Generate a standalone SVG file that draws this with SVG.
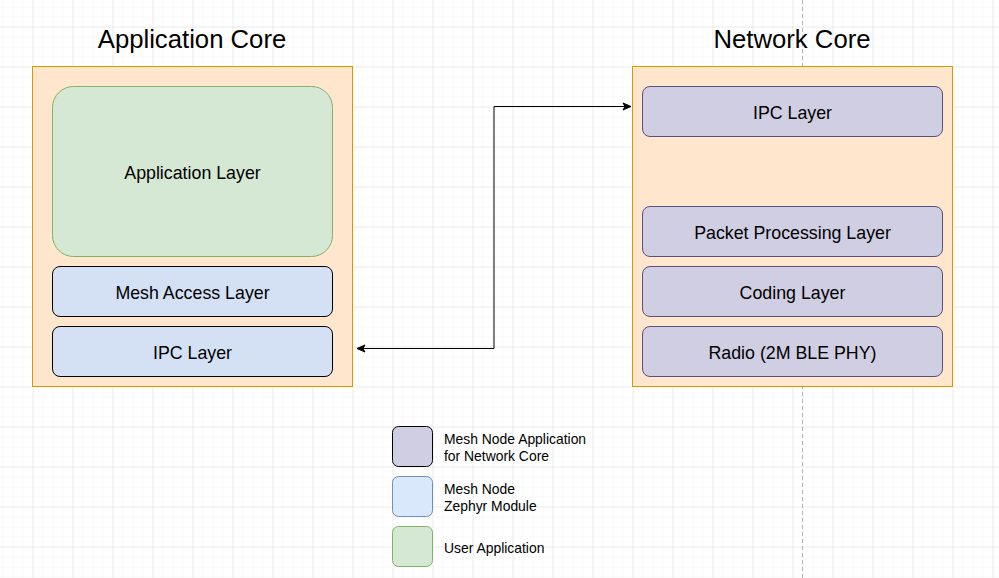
<svg xmlns="http://www.w3.org/2000/svg" width="999" height="578" viewBox="0 0 999 578">
  <defs>
    <pattern id="minor" x="2.5" y="6.5" width="10" height="10" patternUnits="userSpaceOnUse">
      <path d="M0,0 H10 M0,0 V10" fill="none" stroke="#f2f2f2" stroke-width="1"/>
    </pattern>
    <pattern id="major" x="32.5" y="26.5" width="40" height="40" patternUnits="userSpaceOnUse">
      <path d="M0,0 H40 M0,0 V40" fill="none" stroke="#e0e0e0" stroke-width="1"/>
    </pattern>
    <marker id="arr" viewBox="-9 -5 10 10" refX="0" refY="0" markerWidth="10" markerHeight="10" markerUnits="userSpaceOnUse" orient="auto-start-reverse">
      <path d="M0,0 L-8,-3.5 L-6,0 L-8,3.5 Z" fill="#000" stroke="#000" stroke-width="1"/>
    </marker>
  </defs>
  <style>
    .title { font-family: "Liberation Sans", Arial, sans-serif; font-size: 25.7px; fill: #000; text-anchor: middle; }
    .lbl { font-family: "Liberation Sans", Arial, sans-serif; font-size: 17.8px; fill: #000; text-anchor: middle; }
    .leg { font-family: "Liberation Sans", Arial, sans-serif; font-size: 13.9px; fill: #000; }
    .core { fill: #ffe6cc; stroke: #d79b00; stroke-width: 1; }
    .green { fill: #d5e8d4; stroke: #82b366; stroke-width: 1; }
    .blue { fill: #d4e1f5; stroke: #000; stroke-width: 1; }
    .purple { fill: #d0cee2; stroke: #56517e; stroke-width: 1; }
    .edge { fill: none; stroke: #000; stroke-width: 1; }
  </style>
  <rect width="999" height="578" fill="#ffffff"/>
  <rect width="999" height="578" fill="url(#minor)"/>
  <rect width="999" height="578" fill="url(#major)"/>
  <line x1="802.5" y1="0" x2="802.5" y2="578" stroke="#b3b3b3" stroke-width="1" stroke-dasharray="4 3"/>

  <g id="app-core">
    <text class="title" x="192" y="48">Application Core</text>
    <rect class="core" x="32.5" y="66.5" width="320" height="320"/>
  </g>
  <g id="app-layer">
    <rect class="green" x="52.5" y="86.5" width="280" height="170" rx="21" ry="21"/>
    <text class="lbl" x="192.5" y="178.5">Application Layer</text>
  </g>
  <g id="mesh-access">
    <rect class="blue" x="52.5" y="266.5" width="280" height="50" rx="7.5" ry="7.5"/>
    <text class="lbl" x="192.5" y="298.5">Mesh Access Layer</text>
  </g>
  <g id="ipc-left">
    <rect class="blue" x="52.5" y="326.5" width="280" height="50" rx="7.5" ry="7.5"/>
    <text class="lbl" x="192.5" y="358.5">IPC Layer</text>
  </g>

  <g id="net-core">
    <text class="title" x="792" y="48">Network Core</text>
    <rect class="core" x="632.5" y="66.5" width="320" height="320"/>
  </g>
  <g id="ipc-right">
    <rect class="purple" x="642.5" y="86.5" width="300" height="50" rx="7.5" ry="7.5"/>
    <text class="lbl" x="792.5" y="118.5">IPC Layer</text>
  </g>
  <g id="packet">
    <rect class="purple" x="642.5" y="206.5" width="300" height="50" rx="7.5" ry="7.5"/>
    <text class="lbl" x="792.5" y="238.5">Packet Processing Layer</text>
  </g>
  <g id="coding">
    <rect class="purple" x="642.5" y="266.5" width="300" height="50" rx="7.5" ry="7.5"/>
    <text class="lbl" x="792.5" y="298.5">Coding Layer</text>
  </g>
  <g id="radio">
    <rect class="purple" x="642.5" y="326.5" width="300" height="50" rx="7.5" ry="7.5"/>
    <text class="lbl" x="792.5" y="358.5">Radio (2M BLE PHY)</text>
  </g>

  <g id="connectors">
    <path class="edge" d="M631,106.5 H494 V348.5 H357" marker-start="url(#arr)" marker-end="url(#arr)"/>
  </g>

  <g id="legend-purple">
    <rect x="392.5" y="426.5" width="40" height="40" rx="6" ry="6" fill="#d0cee2" stroke="#000"/>
    <text class="leg" x="444" y="444">Mesh Node Application</text>
    <text class="leg" x="444" y="460.5">for Network Core</text>
  </g>
  <g id="legend-blue">
    <rect x="392.5" y="476.5" width="40" height="40" rx="6" ry="6" fill="#dae8fc" stroke="#6c8ebf"/>
    <text class="leg" x="444" y="494">Mesh Node</text>
    <text class="leg" x="444" y="510.5">Zephyr Module</text>
  </g>
  <g id="legend-green">
    <rect x="392.5" y="526.5" width="40" height="40" rx="6" ry="6" fill="#d5e8d4" stroke="#82b366"/>
    <text class="leg" x="444" y="552.5">User Application</text>
  </g>
</svg>
